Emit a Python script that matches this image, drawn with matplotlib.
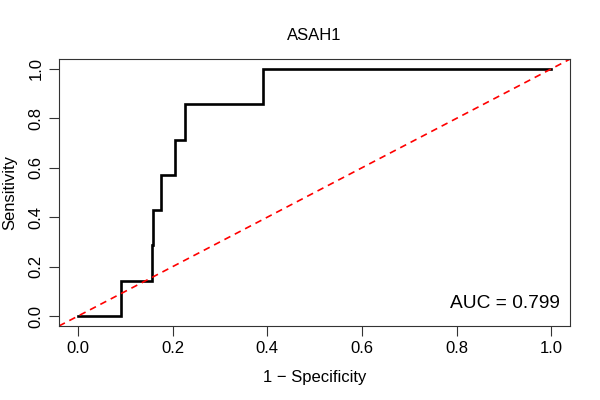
import numpy as np
import matplotlib
matplotlib.use("Agg")
import matplotlib.pyplot as plt

plt.rcParams['font.family'] = ['Liberation Sans', 'DejaVu Sans']

# ROC curve points (1 - specificity, sensitivity)
fpr = [0.0, 0.091, 0.091, 0.157, 0.157, 0.158, 0.158, 0.175, 0.175,
       0.2045, 0.2045, 0.227, 0.227, 0.390, 0.390, 1.0]
tpr = [0.0, 0.0, 1/7, 1/7, 2/7, 2/7, 3/7, 3/7, 4/7,
       4/7, 5/7, 5/7, 6/7, 6/7, 1.0, 1.0]
auc = 0.799
title = "ASAH1"
ticks = [0.0, 0.2, 0.4, 0.6, 0.8, 1.0]

fig = plt.figure(figsize=(6, 4), dpi=100)
ax = fig.add_axes([0.0983, 0.185, 0.852, 0.6675])

ax.plot(fpr, tpr, color='black', lw=1.9, solid_joinstyle='miter')
ax.axline((0, 0), slope=1, color='red', ls=(0, (4, 3)), lw=1.2)

ax.set_xlim(-0.04, 1.04)
ax.set_ylim(-0.04, 1.04)
ax.set_xticks(ticks)
ax.set_yticks(ticks)
ax.set_xticklabels(["%.1f" % t for t in ticks])
ax.set_yticklabels(["%.1f" % t for t in ticks], rotation=90, va='center')
ax.tick_params(labelsize=12, length=7, width=0.8, color='#333333', pad=4)
for s in ax.spines.values():
    s.set_color('#333333')
    s.set_linewidth(0.8)

ax.text(1.018, 0.05, "AUC = %.3f" % auc, ha='right', va='center', fontsize=13.8)
ax.set_title(title, fontsize=12, pad=14)
ax.set_xlabel("1 − Specificity", fontsize=12, labelpad=10)
ax.set_ylabel("Sensitivity", fontsize=12, labelpad=8)

fig.savefig("out.png", dpi=100)
